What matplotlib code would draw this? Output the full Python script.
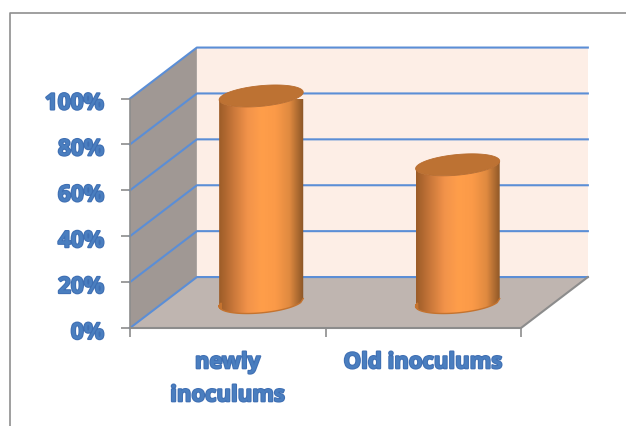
"""3D-style cylinder chart of inoculum percentages, drawn on a flat axes."""

import matplotlib

matplotlib.use("Agg")
import matplotlib.patheffects as pe  # noqa: E402
import matplotlib.pyplot as plt  # noqa: E402
import numpy as np  # noqa: E402
from matplotlib.colors import LinearSegmentedColormap  # noqa: E402
from matplotlib.lines import Line2D  # noqa: E402
from matplotlib.patches import PathPatch, Polygon  # noqa: E402
from matplotlib.path import Path  # noqa: E402
from matplotlib.transforms import ScaledTranslation  # noqa: E402

categories = ["newly\ninoculums", "Old inoculums"]
values = [90, 60]
y_ticks = [0, 20, 40, 60, 80, 100]

W, H = 626, 426
# depth of the box, in data units of the front plane
DX, DY = 0.342, 22.2
RX, RZ = 0.202, 0.216  # cylinder radius along x and along depth
BAR_STEP = 1.005  # second cylinder sits a touch right of its slot

BLUE = "#5b8ed6"
TEXT = "#4a7ebf"
cmap = LinearSegmentedColormap.from_list(
    "cyl", ["#9c5c28", "#c9773a", "#f2934a", "#ff9e4a", "#fb9a48", "#e08a40", "#8a5526"]
)

plt.rcParams["font.family"] = ["Open Sans", "DejaVu Sans"]
fig = plt.figure(figsize=(W / 100, H / 100), dpi=100)
ax = fig.add_axes([130 / W, 1 - 328 / H, 391 / W, 229.5 / H])
ax.set_xlim(0, len(categories))
ax.set_ylim(0, 100)
ax.patch.set_visible(False)
for s in ax.spines.values():
    s.set_visible(False)


def proj(x, y, d=0.0):
    return x + d * DX, y + d * DY


def poly(points, **kw):
    ax.add_patch(Polygon(points, closed=True, clip_on=False, **kw))


nx = len(categories)
poly([proj(0, 0, 1), proj(nx, 0, 1), proj(nx, 100, 1), proj(0, 100, 1)],
     fc="#fdeee6", ec="none", zorder=1)
poly([proj(0, 0), proj(0, 0, 1), proj(0, 100, 1), proj(0, 100)],
     fc="#a09894", ec="none", zorder=1)
poly([proj(0, 0), proj(nx, 0), proj(nx, 0, 1), proj(0, 0, 1)],
     fc="#bfb5b0", ec="none", zorder=1)

for t in y_ticks:
    xs, ys = zip(proj(0, t), proj(0, t, 1), proj(nx, t, 1))
    ax.plot(xs, ys, color=BLUE, lw=1.5, clip_on=False, zorder=2)

xs, ys = zip(proj(0, 0), proj(nx, 0), proj(nx, 0, 1))
ax.plot(xs, ys, color="#8c8c8c", lw=1.5, clip_on=False, zorder=2)
ax.plot([0, 0], [0, 100], color="#8c8c8c", lw=1.2, clip_on=False, zorder=2)

t = np.linspace(0, 2 * np.pi, 121)
for i, v in enumerate(values):
    cx = i * BAR_STEP + 0.5
    u, w = RX * np.cos(t), RZ * np.sin(t)
    ex = cx + u + (0.5 + w) * DX
    base = (0.5 + w) * DY
    top = v + base

    # body outline: lower half of the base ellipse, upper half of the top one
    il, ir = np.argmin(ex), np.argmax(ex)
    idx = np.arange(il, il + len(t)) % len(t)
    lower = [j for j in idx if np.sin(t[j]) <= 0 or j == ir]
    lo = np.array(sorted(lower, key=lambda j: ex[j]))
    body = np.vstack([np.c_[ex[lo], base[lo]], np.c_[ex[lo][::-1], top[lo][::-1]]])
    xmin, xmax = ex.min(), ex.max()
    im = ax.imshow(np.linspace(0, 1, 128)[None, :], cmap=cmap, aspect="auto",
                   extent=(xmin, xmax, 0, 110), zorder=3, clip_on=True)
    clip = PathPatch(Path(body), transform=ax.transData, fc="none", ec="none")
    ax.add_patch(clip)
    clip.set_clip_on(False)
    im.set_clip_path(clip)
    ax.plot(ex[lo], base[lo], color="#c4732f", lw=1, clip_on=False, zorder=3.5)
    poly(np.c_[ex, top], fc="#bd7233", ec="#b86c2e", lw=0.6, zorder=4)

ax.set_xlim(0, nx)
ax.set_ylim(0, 100)

text_fx = [pe.withStroke(linewidth=1.5, foreground="#3f6fb3")]
ax.set_yticks(y_ticks, [f"{t}%" for t in y_ticks])
ax.set_xticks(np.arange(nx + 1))
ax.set_xticklabels([""] * (nx + 1))
ax.tick_params(axis="both", length=6.5, width=1.2, color="#8c8c8c")
ax.tick_params(axis="y", labelsize=16.3, labelcolor=TEXT, pad=12)
# labels sit slightly below their ticks in the original
nudge = ScaledTranslation(0, -2 / 100, fig.dpi_scale_trans)
for lab in ax.get_yticklabels():
    lab.set_fontweight("bold")
    lab.set_transform(lab.get_transform() + nudge)
    lab.set_path_effects(text_fx)
for i, c in enumerate(categories):
    ax.annotate(c, (i + 0.5, 0), xytext=(0, -17.5), textcoords="offset points",
                ha="center", va="top", fontsize=15.9, fontweight="bold",
                color=TEXT, path_effects=text_fx, linespacing=1.75,
                annotation_clip=False)

# chart frame: top and left edges only, both run off the picture
fig.add_artist(Line2D([10 / W, 10 / W, 1], [0, 1 - 13 / H, 1 - 13 / H],
                      color="#8f8f8f", lw=1.2))

fig.savefig("out.png", dpi=100)
